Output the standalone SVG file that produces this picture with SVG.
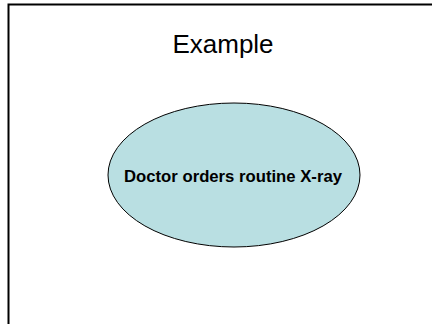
<svg xmlns="http://www.w3.org/2000/svg" width="432" height="324" viewBox="0 0 432 324">
<style>
.title{font-family:"Liberation Sans",Arial,sans-serif;font-size:26px;fill:#000}
.lbl{font-family:"Liberation Sans",Arial,sans-serif;font-size:16.7px;font-weight:bold;fill:#000}
</style>
<rect width="432" height="324" fill="#fff"/>
<path d="M8.5,324 V4.5 H432" fill="none" stroke="#000" stroke-width="2"/>
<text class="title" x="223" y="53" text-anchor="middle">Example</text>
<g id="connectors"/>
<g id="node1">
<ellipse cx="234" cy="175" rx="126" ry="72" fill="#b9dfe2" stroke="#000" stroke-width="1"/>
<text class="lbl" x="233" y="181.5" text-anchor="middle">Doctor orders routine X-ray</text>
</g>
</svg>
